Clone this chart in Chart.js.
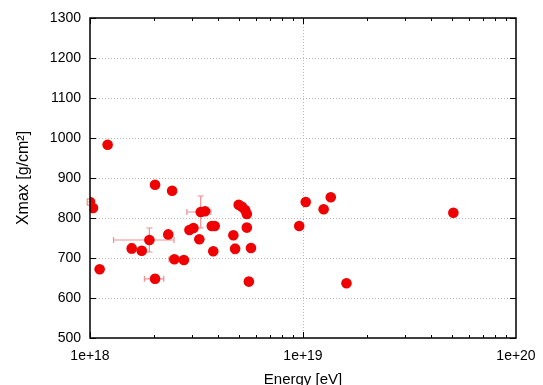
<!DOCTYPE html>
<html>
<head>
<meta charset="utf-8">
<script src="https://cdn.jsdelivr.net/npm/chart.js@4.4.0/dist/chart.umd.min.js"></script>
<style>
  html, body { margin: 0; padding: 0; background: #fff; }
  #wrap { width: 543px; height: 385px; }
</style>
</head>
<body>
<div id="wrap"><canvas id="myChart"></canvas></div>
<script>
// energy [eV] and Xmax [g/cm2]
var energy = [1.0e18, 1.033e18, 1.11e18, 1.21e18, 1.57e18, 1.75e18, 1.90e18, 2.02e18, 2.02e18,
  2.33e18, 2.43e18, 2.49e18, 2.76e18, 2.93e18, 3.06e18, 3.26e18, 3.31e18, 3.47e18,
  3.73e18, 3.85e18, 3.79e18, 4.71e18, 4.80e18, 4.99e18, 5.17e18, 5.35e18, 5.45e18,
  5.45e18, 5.70e18, 5.57e18, 9.6e18, 1.03e19, 1.25e19, 1.35e19, 1.60e19, 5.08e19]
var xmax = [840, 825, 672, 983, 724, 718, 745, 648, 883,
  759, 868, 697, 695, 770, 775, 747, 815, 817,
  780, 780, 717, 757, 723, 833, 828, 820, 810,
  776, 725, 641, 780, 840, 822, 852, 637, 813]
// error bars: energy range and +/- on Xmax
var eLow = [0.97e18, 1.0e18, 1.11e18, 1.17e18, 1.50e18, 1.72e18, 1.29e18, 1.80e18, 2.02e18,
  2.33e18, 2.43e18, 2.35e18, 2.76e18, 2.90e18, 3.00e18, 3.26e18, 2.85e18, 3.47e18,
  3.62e18, 3.85e18, 3.79e18, 4.71e18, 4.70e18, 4.99e18, 5.17e18, 5.35e18, 5.45e18,
  5.40e18, 5.70e18, 5.57e18, 9.6e18, 1.03e19, 1.25e19, 1.35e19, 1.57e19, 5.08e19]
var eHigh = [1.05e18, 1.07e18, 1.11e18, 1.25e18, 1.64e18, 1.78e18, 2.48e18, 2.22e18, 2.02e18,
  2.33e18, 2.43e18, 2.62e18, 2.76e18, 2.96e18, 3.12e18, 3.26e18, 3.69e18, 3.47e18,
  3.80e18, 3.95e18, 3.79e18, 4.71e18, 4.90e18, 4.99e18, 5.17e18, 5.35e18, 5.45e18,
  5.50e18, 5.70e18, 5.57e18, 9.6e18, 1.03e19, 1.25e19, 1.35e19, 1.63e19, 5.08e19]
var xmaxErr = [8, 8, 0, 8, 12, 8, 30, 10, 0,
  0, 0, 0, 0, 8, 8, 0, 40, 0,
  8, 8, 0, 0, 12, 0, 0, 0, 8,
  8, 0, 0, 0, 0, 0, 0, 8, 0]
var xTicks = [1e18, 1e19, 1e20]
var yTicks = [500, 600, 700, 800, 900, 1000, 1100, 1200, 1300]

var pts = []
for (var i = 0; i < energy.length; i++) {
  pts.push({x: energy[i], y: xmax[i]})
}

var errorBars = {
  id: 'errorBars',
  beforeDatasetsDraw: function (chart) {
    var c = chart.ctx, xs = chart.scales.x, ys = chart.scales.y
    c.save()
    c.strokeStyle = 'rgba(225,70,70,0.6)'
    c.lineWidth = 1.2
    for (var i = 0; i < energy.length; i++) {
      var px = xs.getPixelForValue(energy[i]), py = ys.getPixelForValue(xmax[i])
      var x1 = xs.getPixelForValue(eLow[i]), x2 = xs.getPixelForValue(eHigh[i])
      if (x2 - x1 > 1) {
        c.beginPath()
        c.moveTo(x1, py); c.lineTo(x2, py)
        c.moveTo(x1, py - 3); c.lineTo(x1, py + 3)
        c.moveTo(x2, py - 3); c.lineTo(x2, py + 3)
        c.stroke()
      }
      if (xmaxErr[i] > 0) {
        var y1 = ys.getPixelForValue(xmax[i] + xmaxErr[i]), y2 = ys.getPixelForValue(xmax[i] - xmaxErr[i])
        c.beginPath()
        c.moveTo(px, y1); c.lineTo(px, y2)
        c.moveTo(px - 3, y1); c.lineTo(px + 3, y1)
        c.moveTo(px - 3, y2); c.lineTo(px + 3, y2)
        c.stroke()
      }
    }
    c.restore()
  }
}

// gnuplot style frame: dotted grid, inward ticks, black border
var frame = {
  id: 'frame',
  beforeDraw: function (chart) {
    var c = chart.ctx, a = chart.chartArea, xs = chart.scales.x, ys = chart.scales.y
    c.save()
    c.strokeStyle = '#b8b8b8'
    c.lineWidth = 1
    c.setLineDash([1, 2])
    c.beginPath()
    yTicks.slice(1, -1).forEach(function (v) {
      var y = Math.round(ys.getPixelForValue(v)) + 0.5
      c.moveTo(a.left, y); c.lineTo(a.right, y)
    })
    var gx = Math.round(xs.getPixelForValue(1e19)) + 0.5
    c.moveTo(gx, a.top); c.lineTo(gx, a.bottom)
    c.stroke()
    c.restore()
  },
  afterDraw: function (chart) {
    var c = chart.ctx, a = chart.chartArea, xs = chart.scales.x, ys = chart.scales.y
    c.save()
    c.strokeStyle = '#000'
    c.lineWidth = 1
    c.beginPath()
    yTicks.forEach(function (v) {
      var y = Math.round(ys.getPixelForValue(v)) + 0.5
      c.moveTo(a.left, y); c.lineTo(a.left + 6, y)
      c.moveTo(a.right, y); c.lineTo(a.right - 6, y)
    })
    for (var d = 18; d < 20; d++) {
      for (var m = 1; m < 10; m++) {
        var x = Math.round(xs.getPixelForValue(m * Math.pow(10, d))) + 0.5
        var len = m == 1 ? 6 : 3
        c.moveTo(x, a.bottom); c.lineTo(x, a.bottom - len)
        c.moveTo(x, a.top); c.lineTo(x, a.top + len)
      }
    }
    c.stroke()
    c.lineWidth = 1.5
    c.strokeRect(a.left, a.top, a.right - a.left, a.bottom - a.top)
    c.restore()
  }
}

var ctx = document.getElementById('myChart').getContext('2d')
var chart = new Chart(ctx, {
  type: 'scatter',
  data: {
    datasets: [{
      data: pts,
      backgroundColor: 'rgb(240,0,0)',
      borderWidth: 0,
      pointRadius: 5.3,
      pointHoverRadius: 5.3
    }]
  },
  options: {
    responsive: true,
    maintainAspectRatio: false,
    animation: false,
    events: [],
    layout: { padding: { left: 0, right: 27, top: 18, bottom: 0 } },
    plugins: { legend: { display: false }, tooltip: { enabled: false } },
    scales: {
      x: {
        type: 'logarithmic',
        min: 1e18,
        max: 1e20,
        afterBuildTicks: function (s) { s.ticks = xTicks.map(function (v) { return {value: v} }) },
        afterFit: function (s) { s.height = 47; s.paddingLeft = 0; s.paddingRight = 0 },
        grid: { display: false, drawTicks: false },
        border: { display: false },
        ticks: {
          color: '#000',
          font: { family: 'Liberation Sans', size: 14 },
          padding: 10,
          autoSkip: false,
          maxRotation: 0,
          callback: function (v) { return '1e+' + Math.round(Math.log10(v)) }
        },
        title: {
          display: true,
          text: 'Energy [eV]',
          color: '#000',
          font: { family: 'Liberation Sans', size: 15 },
          padding: { top: 0, bottom: -4 }
        }
      },
      y: {
        min: 500,
        max: 1300,
        afterBuildTicks: function (s) { s.ticks = yTicks.map(function (v) { return {value: v} }) },
        afterFit: function (s) { s.width = 90; s.paddingTop = 0; s.paddingBottom = 0 },
        grid: { display: false, drawTicks: false },
        border: { display: false },
        ticks: {
          color: '#000',
          font: { family: 'Liberation Sans', size: 14 },
          padding: 9,
          callback: function (v) { return String(v) }
        },
        title: {
          display: true,
          text: 'Xmax [g/cm²]',
          color: '#000',
          font: { family: 'Liberation Sans', size: 16 },
          padding: { top: 14, bottom: 0 }
        }
      }
    }
  },
  plugins: [frame, errorBars]
})
</script>
</body>
</html>
